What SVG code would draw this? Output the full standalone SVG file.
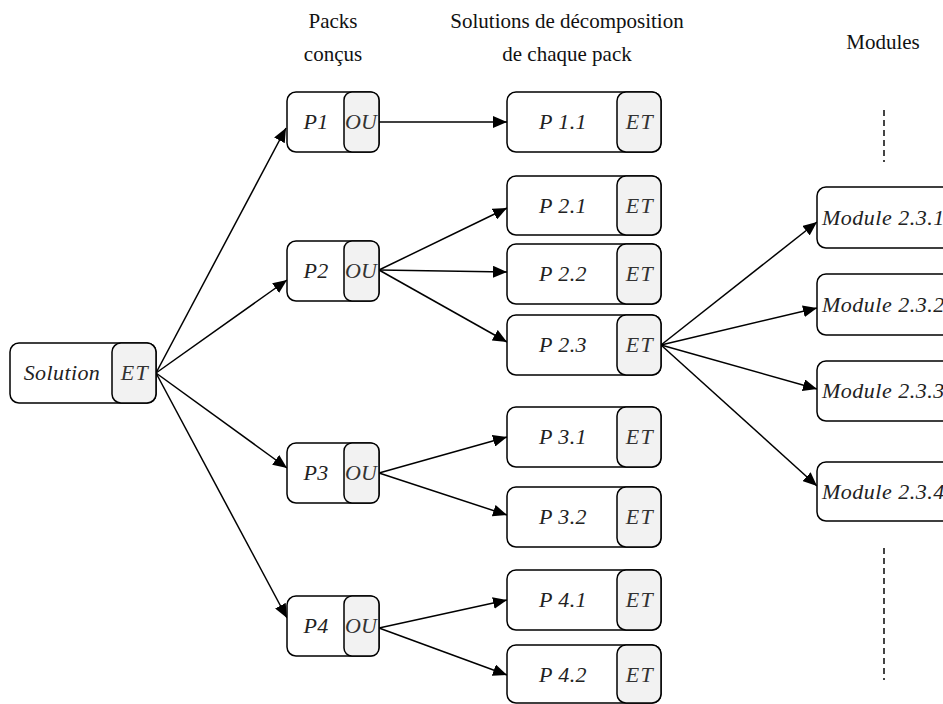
<svg xmlns="http://www.w3.org/2000/svg" width="943" height="704" viewBox="0 0 943 704">
<style>
.box{fill:#fff;stroke:#000;stroke-width:1.5}
.sub{fill:#f2f2f2;stroke:#000;stroke-width:1.5}
.lbl{font-style:italic;font-size:22px;fill:#222;text-anchor:middle;letter-spacing:0.4px}
.mod{font-style:italic;font-size:22px;fill:#222;letter-spacing:0.5px}
.op{font-style:italic;font-size:22px;fill:#333;text-anchor:middle;letter-spacing:1.5px}
.ou{font-style:italic;font-size:22px;fill:#333;text-anchor:middle}
.hdr{font-size:21px;fill:#111;text-anchor:middle}
.edge{stroke:#000;stroke-width:1.5;fill:none;marker-end:url(#ah)}
.dash{stroke:#444;stroke-width:2;stroke-dasharray:6,4;fill:none}
</style>
<defs>
<marker id="ah" viewBox="0 0 14 12" refX="14" refY="6" markerWidth="14" markerHeight="12" markerUnits="userSpaceOnUse" orient="auto">
<path d="M0,0 L14,6 L0,12 Z" fill="#000"/>
</marker>
</defs>

<g id="headers" font-family="Liberation Serif, serif">
<text class="hdr" x="333" y="28">Packs</text>
<text class="hdr" x="333" y="61">conçus</text>
<text class="hdr" x="567" y="28">Solutions de décomposition</text>
<text class="hdr" x="567" y="61">de chaque pack</text>
<text class="hdr" x="883" y="49">Modules</text>
</g>

<g id="connectors">
<line class="edge" x1="156" y1="373" x2="286" y2="128"/>
<line class="edge" x1="156" y1="373" x2="287" y2="280"/>
<line class="edge" x1="156" y1="373" x2="287" y2="468"/>
<line class="edge" x1="156" y1="373" x2="287" y2="618"/>
<line class="edge" x1="379" y1="122" x2="507" y2="122"/>
<line class="edge" x1="379" y1="270" x2="507" y2="208"/>
<line class="edge" x1="379" y1="270" x2="507" y2="272"/>
<line class="edge" x1="379" y1="270" x2="507" y2="342"/>
<line class="edge" x1="379" y1="473" x2="507" y2="437"/>
<line class="edge" x1="379" y1="473" x2="507" y2="515"/>
<line class="edge" x1="379" y1="628" x2="507" y2="600"/>
<line class="edge" x1="379" y1="628" x2="507" y2="675"/>
<line class="edge" x1="661" y1="345" x2="817" y2="222"/>
<line class="edge" x1="661" y1="345" x2="817" y2="308"/>
<line class="edge" x1="661" y1="345" x2="817" y2="389"/>
<line class="edge" x1="661" y1="345" x2="817" y2="486"/>
<line class="dash" x1="884" y1="110" x2="884" y2="162"/>
<line class="dash" x1="884" y1="548" x2="884" y2="680"/>
</g>

<g id="nodes" font-family="Liberation Serif, serif">
<g id="solution">
<rect class="box" x="10" y="343" width="146" height="60" rx="9"/>
<rect class="sub" x="112" y="343" width="44" height="60" rx="9"/>
<text class="lbl" x="62" y="380">Solution</text>
<text class="op" x="135" y="380">ET</text>
</g>

<g id="p1">
<rect class="box" x="287" y="92" width="92" height="60" rx="9"/>
<rect class="sub" x="344" y="92" width="35" height="60" rx="8"/>
<text class="lbl" x="316" y="129">P1</text>
<text class="ou" x="361" y="129">OU</text>
</g>
<g id="p2">
<rect class="box" x="287" y="241" width="92" height="60" rx="9"/>
<rect class="sub" x="344" y="241" width="35" height="60" rx="8"/>
<text class="lbl" x="316" y="278">P2</text>
<text class="ou" x="361" y="278">OU</text>
</g>
<g id="p3">
<rect class="box" x="287" y="443" width="92" height="60" rx="9"/>
<rect class="sub" x="344" y="443" width="35" height="60" rx="8"/>
<text class="lbl" x="316" y="480">P3</text>
<text class="ou" x="361" y="480">OU</text>
</g>
<g id="p4">
<rect class="box" x="287" y="596" width="92" height="60" rx="9"/>
<rect class="sub" x="344" y="596" width="35" height="60" rx="8"/>
<text class="lbl" x="316" y="633">P4</text>
<text class="ou" x="361" y="633">OU</text>
</g>

<g id="p1-1">
<rect class="box" x="507" y="92" width="154" height="60" rx="9"/>
<rect class="sub" x="617" y="92" width="44" height="60" rx="9"/>
<text class="lbl" x="563" y="129">P 1.1</text>
<text class="op" x="640" y="129">ET</text>
</g>
<g id="p2-1">
<rect class="box" x="507" y="176" width="154" height="59" rx="9"/>
<rect class="sub" x="617" y="176" width="44" height="59" rx="9"/>
<text class="lbl" x="563" y="213">P 2.1</text>
<text class="op" x="640" y="213">ET</text>
</g>
<g id="p2-2">
<rect class="box" x="507" y="244" width="154" height="60" rx="9"/>
<rect class="sub" x="617" y="244" width="44" height="60" rx="9"/>
<text class="lbl" x="563" y="281">P 2.2</text>
<text class="op" x="640" y="281">ET</text>
</g>
<g id="p2-3">
<rect class="box" x="507" y="315" width="154" height="60" rx="9"/>
<rect class="sub" x="617" y="315" width="44" height="60" rx="9"/>
<text class="lbl" x="563" y="352">P 2.3</text>
<text class="op" x="640" y="352">ET</text>
</g>
<g id="p3-1">
<rect class="box" x="507" y="407" width="154" height="60" rx="9"/>
<rect class="sub" x="617" y="407" width="44" height="60" rx="9"/>
<text class="lbl" x="563" y="444">P 3.1</text>
<text class="op" x="640" y="444">ET</text>
</g>
<g id="p3-2">
<rect class="box" x="507" y="487" width="154" height="60" rx="9"/>
<rect class="sub" x="617" y="487" width="44" height="60" rx="9"/>
<text class="lbl" x="563" y="524">P 3.2</text>
<text class="op" x="640" y="524">ET</text>
</g>
<g id="p4-1">
<rect class="box" x="507" y="570" width="154" height="60" rx="9"/>
<rect class="sub" x="617" y="570" width="44" height="60" rx="9"/>
<text class="lbl" x="563" y="607">P 4.1</text>
<text class="op" x="640" y="607">ET</text>
</g>
<g id="p4-2">
<rect class="box" x="507" y="645" width="154" height="58" rx="9"/>
<rect class="sub" x="617" y="645" width="44" height="58" rx="9"/>
<text class="lbl" x="563" y="682">P 4.2</text>
<text class="op" x="640" y="682">ET</text>
</g>

<g id="module-2-3-1">
<rect class="box" x="817" y="187" width="140" height="61" rx="9"/>
<text class="mod" x="822" y="225">Module 2.3.1</text>
</g>
<g id="module-2-3-2">
<rect class="box" x="817" y="274" width="140" height="61" rx="9"/>
<text class="mod" x="822" y="312">Module 2.3.2</text>
</g>
<g id="module-2-3-3">
<rect class="box" x="817" y="361" width="140" height="60" rx="9"/>
<text class="mod" x="822" y="398">Module 2.3.3</text>
</g>
<g id="module-2-3-4">
<rect class="box" x="817" y="462" width="140" height="59" rx="9"/>
<text class="mod" x="822" y="499">Module 2.3.4</text>
</g>
</g>
</svg>
